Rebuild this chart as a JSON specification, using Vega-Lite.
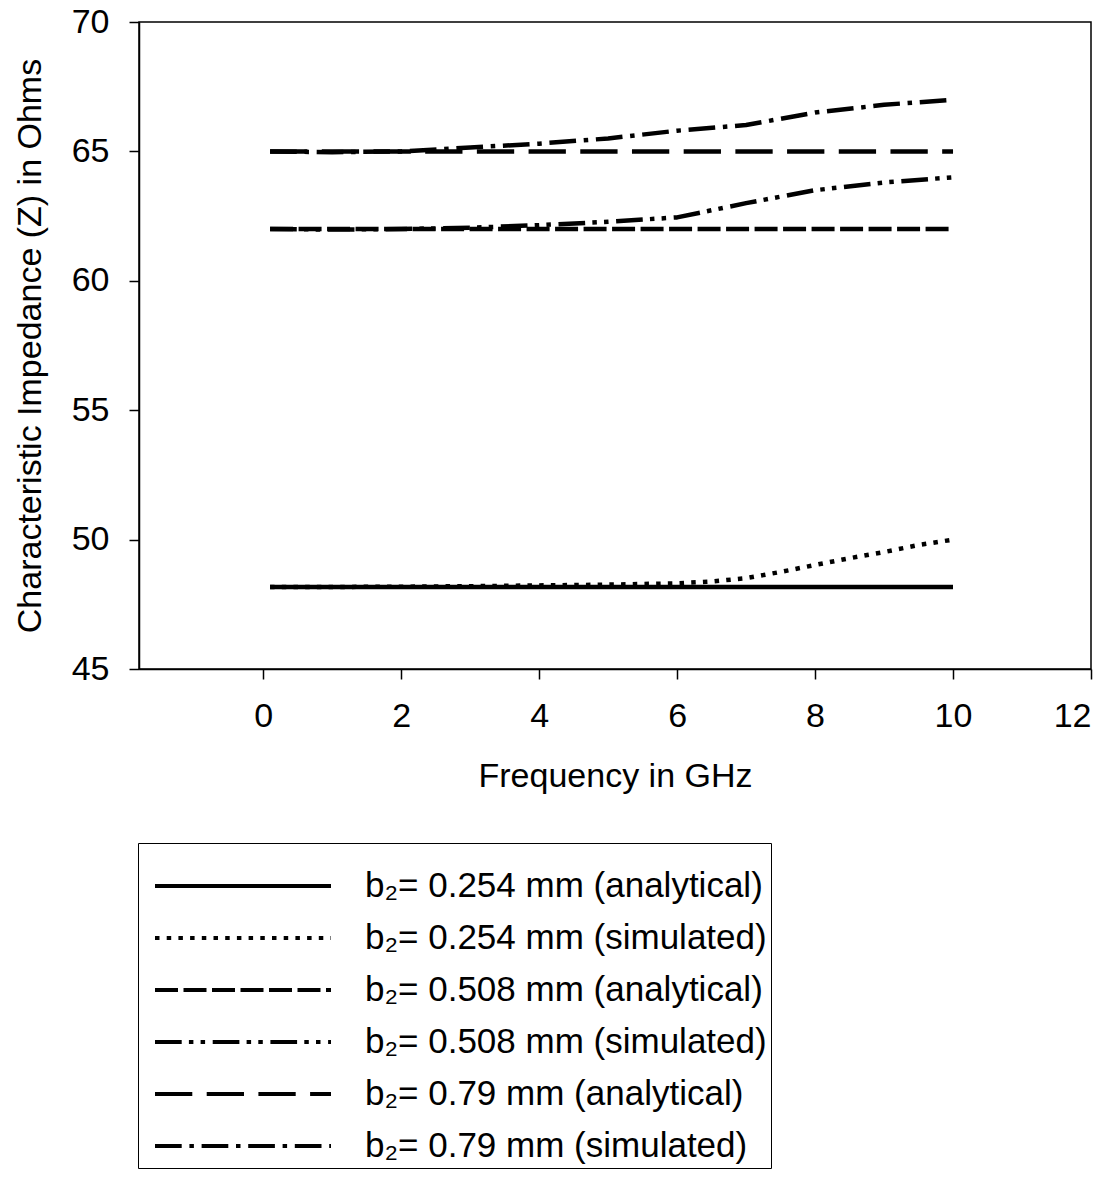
{
  "$schema": "https://vega.github.io/schema/vega-lite/v6.json",
  "autosize": "none",
  "padding": {"left": 139, "top": 22, "right": 27, "bottom": 515},
  "width": 952,
  "height": 647,
  "background": "white",
  "config": {
    "font": "Liberation Sans",
    "view": {"stroke": "black", "strokeWidth": 1.5},
    "axis": {
      "domainColor": "black", "domainWidth": 1.5,
      "tickColor": "black", "tickWidth": 1.5, "tickSize": 10,
      "grid": false,
      "labelFont": "Liberation Sans", "labelFontSize": 34, "labelColor": "black",
      "titleFont": "Liberation Sans", "titleFontSize": 34, "titleFontWeight": "normal", "titleColor": "black"
    }
  },
  "data": {
    "values": [
      {"f": 0.1, "z": 48.17, "series": "b₂= 0.254 mm (analytical)"},
      {"f": 10, "z": 48.17, "series": "b₂= 0.254 mm (analytical)"},
      {"f": 0.1, "z": 48.17, "series": "b₂= 0.254 mm (simulated)"},
      {"f": 1, "z": 48.17, "series": "b₂= 0.254 mm (simulated)"},
      {"f": 2, "z": 48.18, "series": "b₂= 0.254 mm (simulated)"},
      {"f": 3, "z": 48.2, "series": "b₂= 0.254 mm (simulated)"},
      {"f": 4, "z": 48.23, "series": "b₂= 0.254 mm (simulated)"},
      {"f": 5, "z": 48.26, "series": "b₂= 0.254 mm (simulated)"},
      {"f": 6, "z": 48.31, "series": "b₂= 0.254 mm (simulated)"},
      {"f": 6.5, "z": 48.38, "series": "b₂= 0.254 mm (simulated)"},
      {"f": 7, "z": 48.51, "series": "b₂= 0.254 mm (simulated)"},
      {"f": 7.5, "z": 48.75, "series": "b₂= 0.254 mm (simulated)"},
      {"f": 8, "z": 49.02, "series": "b₂= 0.254 mm (simulated)"},
      {"f": 8.5, "z": 49.28, "series": "b₂= 0.254 mm (simulated)"},
      {"f": 9, "z": 49.52, "series": "b₂= 0.254 mm (simulated)"},
      {"f": 9.5, "z": 49.79, "series": "b₂= 0.254 mm (simulated)"},
      {"f": 10, "z": 50.0, "series": "b₂= 0.254 mm (simulated)"},
      {"f": 0.1, "z": 62.0, "series": "b₂= 0.508 mm (analytical)"},
      {"f": 10, "z": 62.0, "series": "b₂= 0.508 mm (analytical)"},
      {"f": 0.1, "z": 62.0, "series": "b₂= 0.508 mm (simulated)"},
      {"f": 1, "z": 61.98, "series": "b₂= 0.508 mm (simulated)"},
      {"f": 2, "z": 62.0, "series": "b₂= 0.508 mm (simulated)"},
      {"f": 3, "z": 62.05, "series": "b₂= 0.508 mm (simulated)"},
      {"f": 4, "z": 62.15, "series": "b₂= 0.508 mm (simulated)"},
      {"f": 5, "z": 62.28, "series": "b₂= 0.508 mm (simulated)"},
      {"f": 6, "z": 62.45, "series": "b₂= 0.508 mm (simulated)"},
      {"f": 7, "z": 63.0, "series": "b₂= 0.508 mm (simulated)"},
      {"f": 8, "z": 63.5, "series": "b₂= 0.508 mm (simulated)"},
      {"f": 9, "z": 63.8, "series": "b₂= 0.508 mm (simulated)"},
      {"f": 10, "z": 64.0, "series": "b₂= 0.508 mm (simulated)"},
      {"f": 0.1, "z": 65.0, "series": "b₂= 0.79 mm (analytical)"},
      {"f": 10, "z": 65.0, "series": "b₂= 0.79 mm (analytical)"},
      {"f": 0.1, "z": 65.0, "series": "b₂= 0.79 mm (simulated)"},
      {"f": 1, "z": 64.97, "series": "b₂= 0.79 mm (simulated)"},
      {"f": 2, "z": 65.0, "series": "b₂= 0.79 mm (simulated)"},
      {"f": 3, "z": 65.15, "series": "b₂= 0.79 mm (simulated)"},
      {"f": 4, "z": 65.3, "series": "b₂= 0.79 mm (simulated)"},
      {"f": 5, "z": 65.5, "series": "b₂= 0.79 mm (simulated)"},
      {"f": 6, "z": 65.8, "series": "b₂= 0.79 mm (simulated)"},
      {"f": 7, "z": 66.02, "series": "b₂= 0.79 mm (simulated)"},
      {"f": 8, "z": 66.5, "series": "b₂= 0.79 mm (simulated)"},
      {"f": 9, "z": 66.8, "series": "b₂= 0.79 mm (simulated)"},
      {"f": 10, "z": 67.0, "series": "b₂= 0.79 mm (simulated)"}
    ]
  },
  "mark": {"type": "line", "color": "black", "strokeWidth": 4.5, "strokeCap": "butt", "strokeJoin": "round"},
  "encoding": {
    "x": {
      "field": "f", "type": "quantitative",
      "scale": {"domain": [-1.8, 12], "nice": false, "zero": false},
      "axis": {"values": [0, 2, 4, 6, 8, 10, 12], "title": "Frequency in GHz", "labelPadding": 20, "titlePadding": 26}
    },
    "y": {
      "field": "z", "type": "quantitative",
      "scale": {"domain": [45, 70], "nice": false, "zero": false},
      "axis": {"values": [45, 50, 55, 60, 65, 70], "title": "Characteristic Impedance (Z) in Ohms", "labelPadding": 20, "titlePadding": 24}
    },
    "strokeDash": {
      "field": "series", "type": "nominal",
      "scale": {
        "domain": ["b₂= 0.254 mm (analytical)", "b₂= 0.254 mm (simulated)", "b₂= 0.508 mm (analytical)", "b₂= 0.508 mm (simulated)", "b₂= 0.79 mm (analytical)", "b₂= 0.79 mm (simulated)"],
        "range": [[1, 0], [4.5, 7.2], [23, 5.5], [26.7, 7.2, 4.5, 7.2, 4.5, 7.6], [37.3, 14.4], [26.7, 7.7, 4.5, 7.7]]
      },
      "legend": {
        "title": "\u00a0\u00a0\u00a0\u00a0\u00a0\u00a0\u00a0\u00a0\u00a0\u00a0\u00a0\u00a0\u00a0\u00a0\u00a0\u00a0\u00a0\u00a0\u00a0\u00a0\u00a0\u00a0\u00a0\u00a0\u00a0\u00a0\u00a0\u00a0\u00a0\u00a0\u00a0\u00a0\u00a0\u00a0\u00a0\u00a0\u00a0\u00a0\u00a0\u00a0\u00a0\u00a0\u00a0\u00a0\u00a0\u00a0\u00a0\u00a0\u00a0\u00a0\u00a0\u00a0\u00a0\u00a0\u00a0\u00a0\u00a0\u00a0\u00a0\u00a0\u00a0\u00a0\u00a0\u00a0\u00a0\u00a0\u00a0\u00a0\u00a0\u00a0\u00a0\u00a0\u00a0\u00a0\u00a0\u00a0\u00a0\u00a0\u00a0\u00a0\u00a0\u00a0\u00a0\u00a0\u00a0\u00a0\u00a0\u00a0\u00a0\u00a0\u00a0\u00a0\u00a0\u00a0\u00a0\u00a0\u00a0\u00a0\u00a0\u00a0\u00a0\u00a0\u00a0\u00a0\u00a0\u00a0\u00a0\u00a0\u00a0\u00a0\u00a0\u00a0\u00a0\u00a0",
        "titleFontSize": 20, "titlePadding": 1, "titleLimit": 2000,
        "orient": "none", "legendX": -1, "legendY": 821,
        "strokeColor": "black", "padding": 4,
        "symbolType": "stroke", "symbolSize": 30976, "symbolStrokeWidth": 4, "symbolStrokeColor": "black", "symbolOffset": 11,
        "clipHeight": 36, "rowPadding": 16,
        "labelFontSize": 35, "labelFont": "Liberation Sans", "labelColor": "black", "labelOffset": 32, "labelLimit": 0
      }
    }
  }
}
